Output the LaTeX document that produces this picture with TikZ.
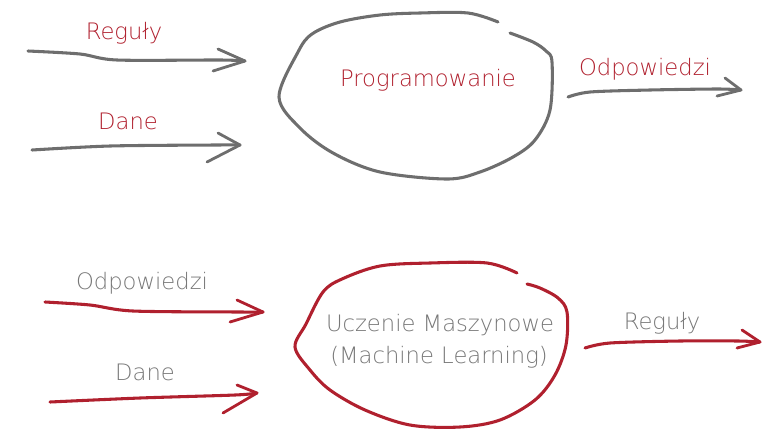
\documentclass[tikz,border=0pt]{standalone}
\usepackage{fontspec}
\setmainfont{DejaVu Sans}[UprightFont={* ExtraLight}]
\definecolor{inkred}{HTML}{B0202E}
\definecolor{inkgray}{HTML}{6E6E6E}
\definecolor{textgray}{HTML}{777777}
\tikzset{
  pen/.style={line width=2.3pt, line cap=round, line join=round},
  thinpen/.style={line width=2.1pt, line cap=round, line join=round},
  lbl/.style={font=\fontsize{17}{20}\selectfont, inner sep=0pt},
}
\begin{document}
\begin{tikzpicture}[x=0.75pt, y=-0.75pt]
\useasboundingbox (0,0) rectangle (763,429);

% ---------- classical programming ----------
\draw[pen, inkgray] plot[smooth, tension=0.55] coordinates {
  (498,22) (468,13) (420,13) (380,15) (340,22) (312,34) (298,52) (279,97)
  (300,128) (333,153) (380,172) (447,179) (480,172) (513,157) (535,140) (550,110)
  (552,62) (546,51) (533,42) (510,33)};
\node[lbl, text=inkred] (prog) at (428,80) {Programowanie};

% input arrow: rules
\node[lbl, text=inkred] (rulesA) at (124,33) {Reguły};
\coordinate (ra0) at (28,51);
\coordinate (ra1) at (220,60);
\coordinate (rat) at (245,61);
\draw[pen, inkgray] plot[smooth] coordinates {(ra0) (80,54) (117,60) (ra1) (rat)};
\draw[thinpen, inkgray] (218,49) -- (rat) -- (213,71);

% input arrow: data
\node[lbl, text=inkred] (dataA) at (128,121) {Dane};
\coordinate (da0) at (32,150);
\coordinate (da1) at (215,145);
\coordinate (dat) at (240,145);
\draw[pen, inkgray] plot[smooth] coordinates {(da0) (110,146) (da1) (dat)};
\draw[thinpen, inkgray] (218,133) -- (dat) -- (207,162);

% output arrow: answers
\node[lbl, text=inkred] (ansA) at (645,69) {Odpowiedzi};
\coordinate (aa0) at (568,97);
\coordinate (aa1) at (718,89);
\coordinate (aat) at (741,90);
\draw[pen, inkgray] plot[smooth] coordinates {(aa0) (590,92) (650,90) (aa1) (aat)};
\draw[thinpen, inkgray] (725,78) -- (aat) -- (717,96);

% ---------- machine learning ----------
\draw[pen, inkred] plot[smooth, tension=0.55] coordinates {
  (517,273) (487,263) (430,263) (380,266) (342,279) (323,292) (306,324) (295,347)
  (310,370) (330,390) (365,410) (410,425) (460,427) (500,420) (535,400) (555,375)
  (566,345) (567,312) (558,298) (540,288) (527,284)};
\node[lbl, text=textgray] (ml1) at (440,325) {Uczenie Maszynowe};
\node[lbl, text=textgray] (ml2) at (439,357) {(Machine Learning)};

% input arrow: answers
\node[lbl, text=textgray] (ansB) at (142,283) {Odpowiedzi};
\coordinate (ab0) at (45,302);
\coordinate (ab1) at (240,312);
\coordinate (abt) at (263,312);
\draw[pen, inkred] plot[smooth] coordinates {(ab0) (90,305) (133,311) (ab1) (abt)};
\draw[thinpen, inkred] (237,300) -- (abt) -- (230,322);

% input arrow: data
\node[lbl, text=textgray] (dataB) at (145,372) {Dane};
\coordinate (db0) at (50,402);
\coordinate (db1) at (235,395);
\coordinate (dbt) at (257,393);
\draw[pen, inkred] plot[smooth] coordinates {(db0) (140,398) (db1) (dbt)};
\draw[thinpen, inkred] (237,385) -- (dbt) -- (223,413);

% output arrow: rules
\node[lbl, text=textgray] (rulesB) at (662,323) {Reguły};
\coordinate (rb0) at (585,348);
\coordinate (rb1) at (738,341);
\coordinate (rbt) at (760,342);
\draw[pen, inkred] plot[smooth] coordinates {(rb0) (610,343) (680,341) (rb1) (rbt)};
\draw[thinpen, inkred] (742,330) -- (rbt) -- (737,348);
\end{tikzpicture}
\end{document}
